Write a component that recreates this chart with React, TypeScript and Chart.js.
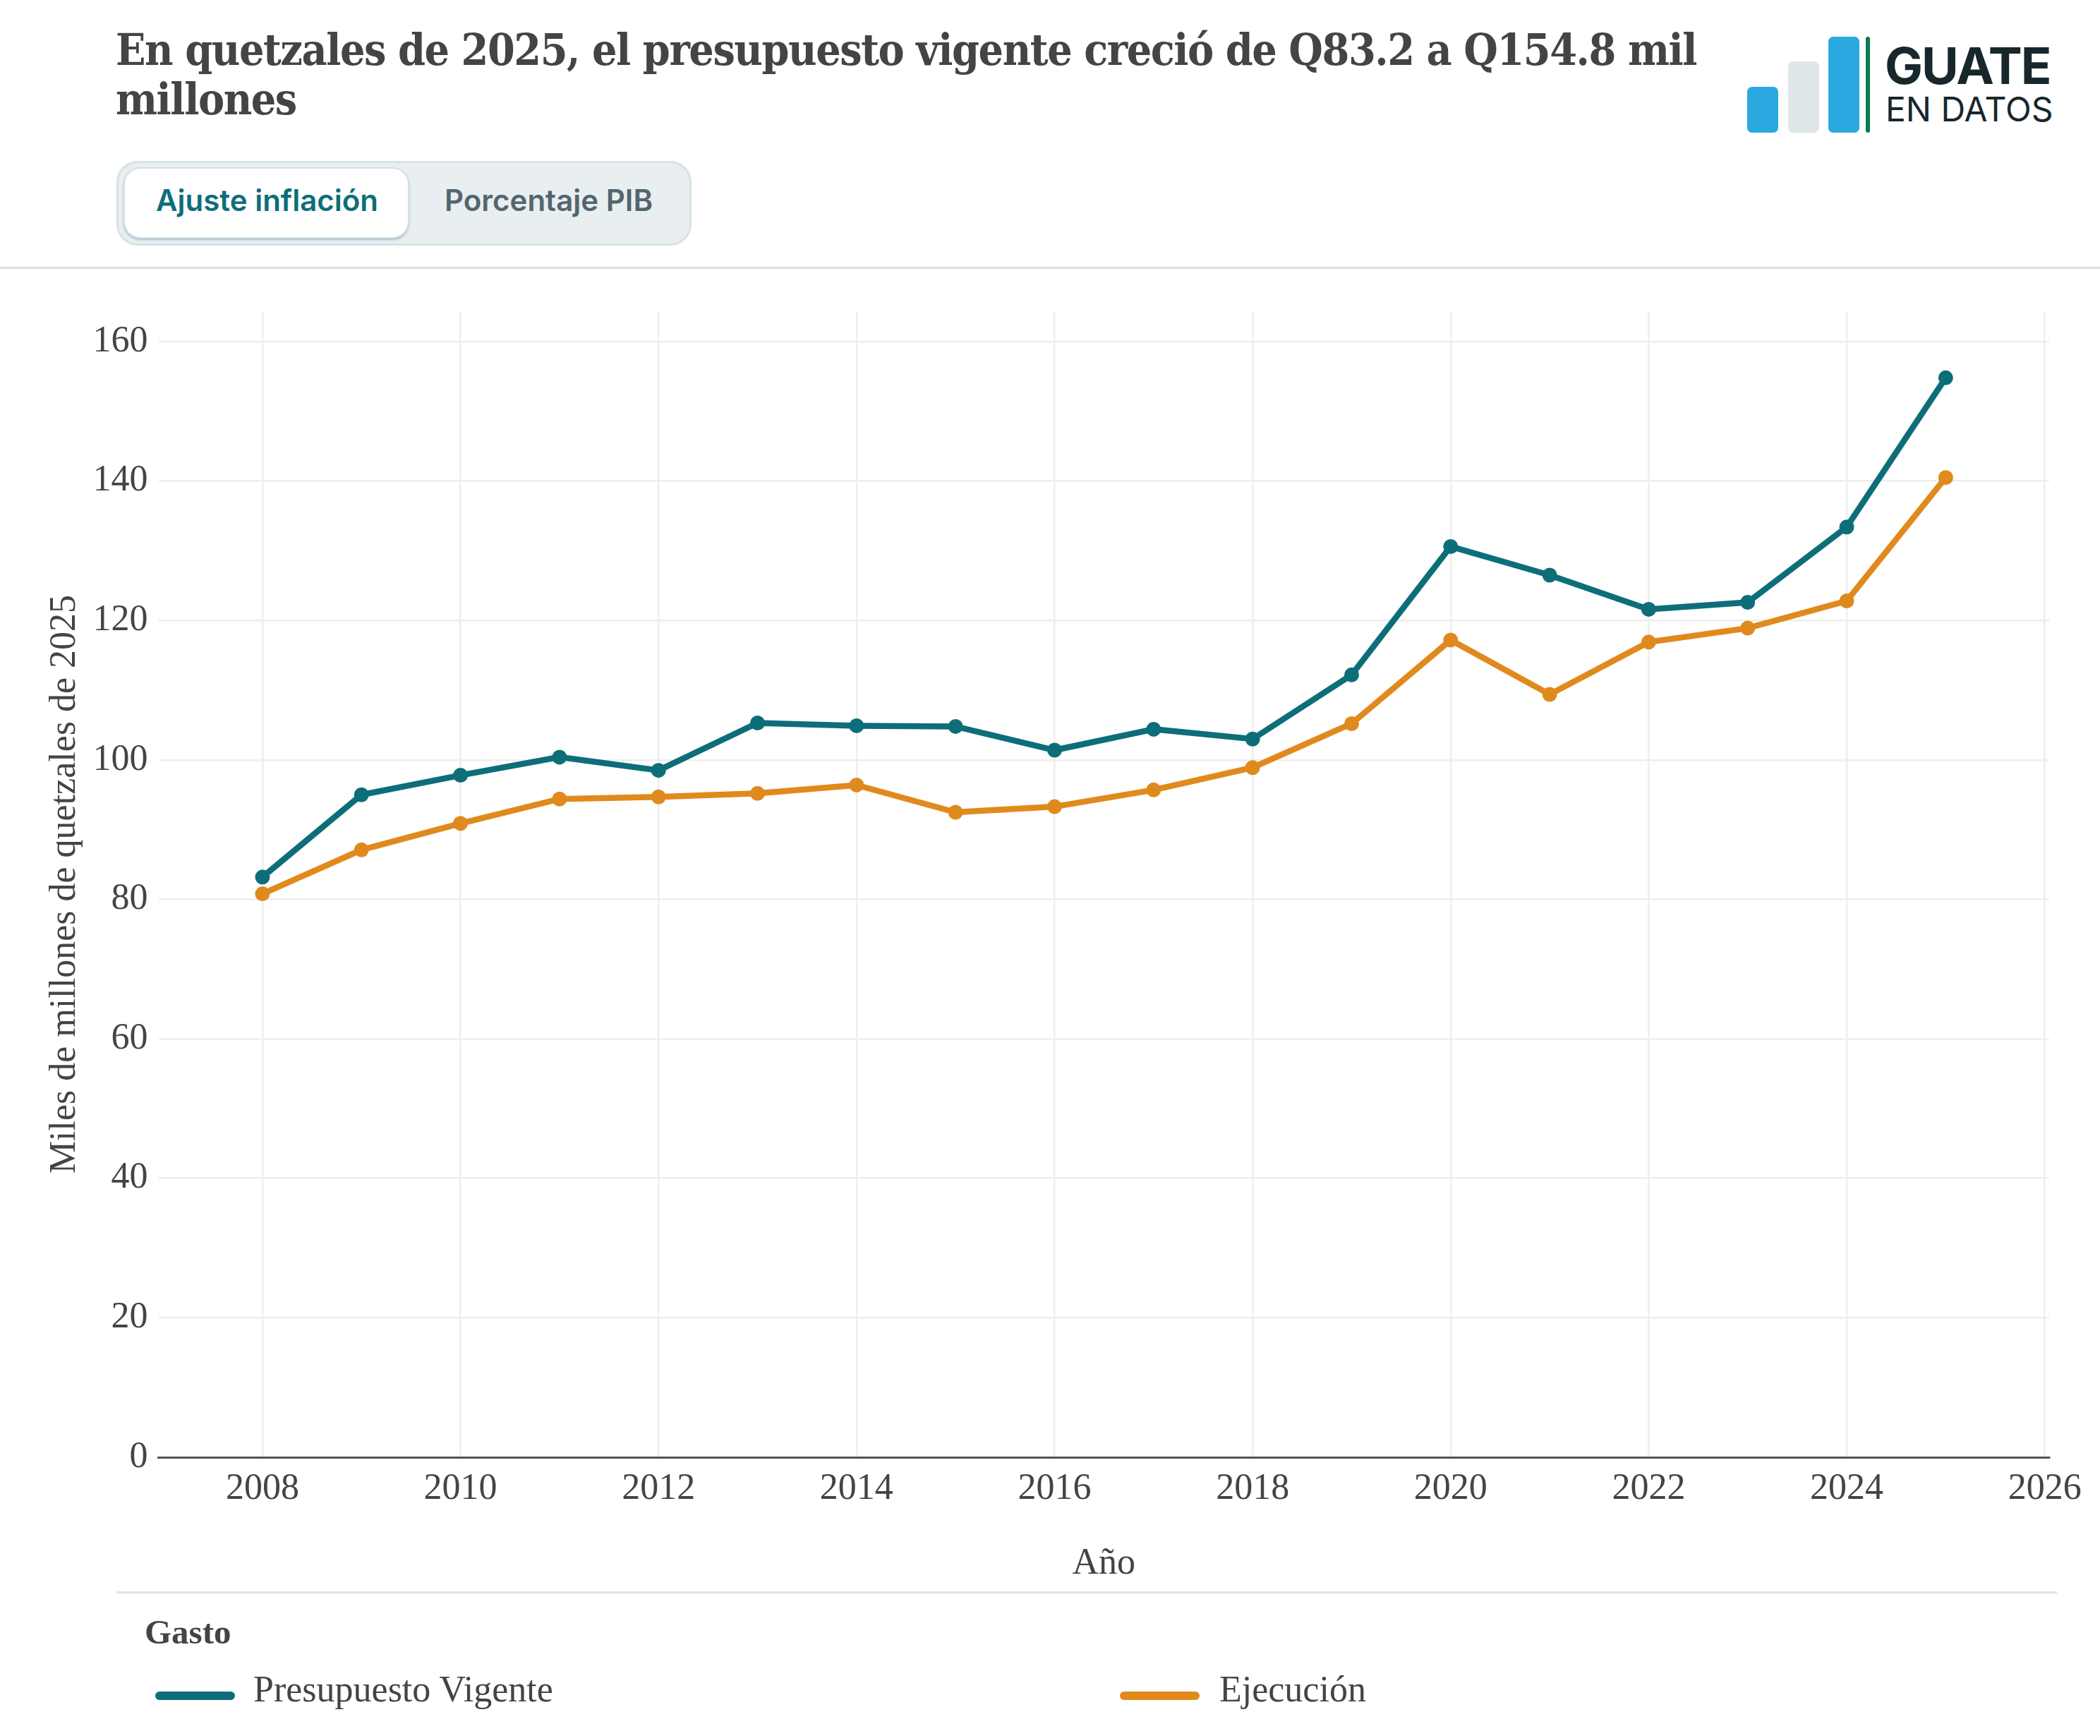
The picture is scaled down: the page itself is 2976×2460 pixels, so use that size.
import { useEffect, useRef, CSSProperties } from "react";
import { Chart, registerables } from "chart.js";

Chart.register(...registerables);

const years = [2008, 2009, 2010, 2011, 2012, 2013, 2014, 2015, 2016, 2017, 2018, 2019, 2020, 2021, 2022, 2023, 2024, 2025];
const presupuesto = [83.2, 95.0, 97.8, 100.4, 98.5, 105.3, 104.9, 104.8, 101.4, 104.4, 103.0, 112.2, 130.6, 126.5, 121.6, 122.6, 133.4, 154.8];
const ejecucion = [80.8, 87.1, 90.9, 94.4, 94.7, 95.2, 96.4, 92.5, 93.3, 95.7, 98.9, 105.2, 117.2, 109.4, 116.9, 118.9, 122.8, 140.5];
const xTicks = [2008, 2010, 2012, 2014, 2016, 2018, 2020, 2022, 2024, 2026];
const yTicks = [0, 20, 40, 60, 80, 100, 120, 140, 160];

const TEAL = "#0d6e7a";
const ORANGE = "#e08a1e";
const TEXT = "#444444";
const SERIF = '"Liberation Serif", serif';
const TITLE_FONT = '"DejaVu Serif", serif';
const SANS = 'Inter, sans-serif';

function Box({ x, y, w, h, style }: { x: number; y: number; w: number; h: number; style?: CSSProperties }) {
  return <div style={{ position: "absolute", left: x, top: y, width: w, height: h, boxSizing: "border-box", ...style }} />;
}

function Label({ x, y, children, style }: { x: number; y: number; children: string; style?: CSSProperties }) {
  return <div style={{ position: "absolute", left: x, top: y, whiteSpace: "nowrap", lineHeight: 1, ...style }}>{children}</div>;
}

const titleStyle: CSSProperties = {
  fontFamily: TITLE_FONT,
  fontWeight: 700,
  fontStretch: "condensed",
  fontSize: 62,
  letterSpacing: -1.43,
  color: TEXT,
};

export default function App() {
  const canvasRef = useRef<HTMLCanvasElement>(null);

  useEffect(() => {
    if (!canvasRef.current) return;
    const chart = new Chart(canvasRef.current, {
      type: "line",
      data: {
        datasets: [
          {
            label: "Presupuesto Vigente",
            data: years.map((y, i) => ({ x: y, y: presupuesto[i] })),
            borderColor: TEAL,
            backgroundColor: TEAL,
            borderWidth: 8.5,
            pointRadius: 10.5,
            pointBorderWidth: 0,
          },
          {
            label: "Ejecución",
            data: years.map((y, i) => ({ x: y, y: ejecucion[i] })),
            borderColor: ORANGE,
            backgroundColor: ORANGE,
            borderWidth: 8.5,
            pointRadius: 10.5,
            pointBorderWidth: 0,
          },
        ],
      },
      options: {
        animation: false,
        responsive: false,
        devicePixelRatio: 1,
        layout: { padding: { top: 21, right: 72, left: 0, bottom: 0 } },
        plugins: { legend: { display: false }, tooltip: { enabled: false } },
        scales: {
          x: {
            type: "linear",
            min: 2006.95,
            max: 2026.045,
            afterBuildTicks: (scale) => {
              scale.ticks = xTicks.map((value) => ({ value }));
            },
            afterFit: (scale: any) => {
              scale.height = 215;
              scale.paddingLeft = 0;
              scale.paddingRight = 0;
            },
            grid: { color: "#eeeeee", lineWidth: 2.5, drawTicks: false },
            border: { color: "#555555", width: 3 },
            ticks: {
              color: TEXT,
              font: { family: SERIF, size: 52 },
              padding: 14,
              maxRotation: 0,
              autoSkip: false,
              callback: (v) => String(v),
            },
            title: {
              display: true,
              text: "Año",
              color: TEXT,
              font: { family: SERIF, size: 52 },
              padding: { top: 0, bottom: 32 },
            },
          },
          y: {
            type: "linear",
            min: 0,
            max: 164.35,
            afterBuildTicks: (scale) => {
              scale.ticks = yTicks.map((value) => ({ value }));
            },
            afterFit: (scale: any) => {
              scale.width = 224.6;
              scale.paddingTop = 0;
              scale.paddingBottom = 0;
            },
            grid: { color: "#eeeeee", lineWidth: 2.5, drawTicks: false },
            border: { display: false },
            ticks: {
              color: TEXT,
              font: { family: SERIF, size: 52 },
              padding: 15,
              autoSkip: false,
              callback: (v) => String(v),
            },
            title: {
              display: true,
              text: "Miles de millones de quetzales de 2025",
              color: TEXT,
              font: { family: SERIF, size: 52 },
              padding: { top: 61, bottom: 0 },
            },
          },
        },
      },
    });

    return () => {
      chart.destroy();
    };
  }, []);

  return (
    <div style={{ position: "absolute", left: 0, top: 0, width: 2976, height: 2460, background: "#fff", overflow: "hidden" }}>
      <Label x={164} y={40} style={titleStyle}>
        En quetzales de 2025, el presupuesto vigente creció de Q83.2 a Q154.8 mil
      </Label>
      <Label x={164} y={110} style={titleStyle}>
        millones
      </Label>

      {/* toggle */}
      <Box x={165} y={228} w={815} h={120} style={{ background: "#e9eef1", border: "3px solid #d8e2e6", borderRadius: 30 }} />
      <Box x={175} y={237} w={405} h={101} style={{ background: "#fff", border: "2px solid #d5e0e4", borderRadius: 24, boxShadow: "0 2px 3px #a9bcc4" }} />
      <Label x={221} y={263} style={{ fontFamily: SANS, fontWeight: 600, fontSize: 42, color: TEAL }}>Ajuste inflación</Label>
      <Label x={630} y={263} style={{ fontFamily: SANS, fontWeight: 600, fontSize: 42, color: "#53666e" }}>Porcentaje PIB</Label>

      {/* logo */}
      <Box x={2476} y={123} w={44} h={65} style={{ background: "#2aa9e0", borderRadius: 7 }} />
      <Box x={2534} y={87} w={44} h={101} style={{ background: "#dfe6e8", borderRadius: 7 }} />
      <Box x={2591} y={52} w={44} h={136} style={{ background: "#2aa9e0", borderRadius: 7 }} />
      <Box x={2644} y={52} w={6} h={136} style={{ background: "#0a7a50", borderRadius: 3 }} />
      <Label x={2671} y={57} style={{ fontFamily: SANS, fontWeight: 700, fontSize: 72, letterSpacing: -2, color: "#17272c" }}>GUATE</Label>
      <Label x={2672} y={131} style={{ fontFamily: SANS, fontWeight: 400, fontSize: 48, color: "#17272c" }}>EN DATOS</Label>

      <Box x={0} y={378} w={2976} h={3} style={{ background: "#d9e0e0" }} />

      <canvas ref={canvasRef} width={2976} height={1860} style={{ position: "absolute", left: 0, top: 420, width: 2976, height: 1860 }} />

      {/* legend */}
      <Box x={165} y={2255} w={2750} h={3} style={{ background: "#e2e2e2" }} />
      <Label x={205} y={2288} style={{ fontFamily: SERIF, fontWeight: 700, fontSize: 49, color: TEXT }}>Gasto</Label>
      <Box x={220} y={2397} w={113} h={12} style={{ background: TEAL, borderRadius: 6 }} />
      <Label x={359} y={2368} style={{ fontFamily: SERIF, fontSize: 52, color: TEXT }}>Presupuesto Vigente</Label>
      <Box x={1587} y={2397} w={113} h={12} style={{ background: ORANGE, borderRadius: 6 }} />
      <Label x={1728} y={2368} style={{ fontFamily: SERIF, fontSize: 52, color: TEXT }}>Ejecución</Label>
    </div>
  );
}
